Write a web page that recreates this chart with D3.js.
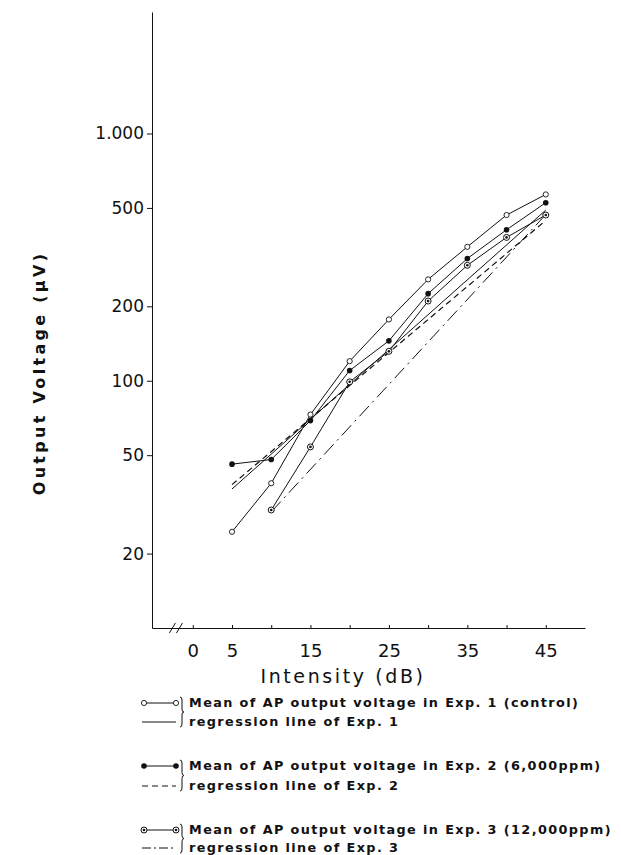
<!DOCTYPE html>
<html><head><meta charset="utf-8">
<script src="https://cdn.jsdelivr.net/npm/d3@7"></script>
<style>body{margin:0;background:#fff}svg{display:block}</style>
</head><body>
<svg id="chart" width="621" height="855"></svg>
<script>
// ---- data ----
const intensities = [5, 10, 15, 20, 25, 30, 35, 40, 45];
const exp1Values = [24.5, 38.5, 73, 120, 177, 257, 348, 468, 567];
const exp2Values = [46, 48, 69, 110, 145, 225, 312, 408, 525];
const exp3Intensities = [10, 15, 20, 25, 30, 35, 40, 45];
const exp3Values = [30, 54, 99, 131.5, 210, 293, 380, 468];
const reg1Intensities = [5, 45];
const reg1Values = [36.5, 490];
const reg2Intensities = [5, 45];
const reg2Values = [38, 445];
const reg3Intensities = [10, 45];
const reg3Values = [29.5, 470];
const xTickValues = [0, 5, 10, 15, 20, 25, 30, 35, 40, 45];
const xTickLabels = ["0", "5", "", "15", "", "25", "", "35", "", "45"];
const yTickValues = [20, 50, 100, 200, 500, 1000];
const yTickLabels = ["20", "50", "100", "200", "500", "1.000"];
const xDomain = [-5.2, 50];
const yDomain = [10, 3100];
const xTitle = "Intensity (dB)";
const yTitle = "Output Voltage (\u03BCV)";
const legendLabels = [
  "Mean of AP output voltage in Exp. 1 (control)",
  "regression line of Exp. 1",
  "Mean of AP output voltage in Exp. 2 (6,000ppm)",
  "regression line of Exp. 2",
  "Mean of AP output voltage in Exp. 3 (12,000ppm)",
  "regression line of Exp. 3"
];

// ---- drawing ----
const FONT = "'DejaVu Sans', 'Liberation Sans', sans-serif";
const svg = d3.select("#chart");
const x = d3.scaleLinear().domain(xDomain).range([152, 585]);
const y = d3.scaleLog().domain(yDomain).range([628, 12]);

// axes
const xAxis = svg.append("g").attr("transform", `translate(0,${y(yDomain[0])})`)
  .call(d3.axisBottom(x).tickValues(xTickValues).tickFormat((d, i) => xTickLabels[i])
    .tickSizeInner(-3).tickSizeOuter(0).tickPadding(16));
xAxis.selectAll("text").attr("font-family", FONT).attr("font-size", 18).attr("fill", "#111");
xAxis.selectAll("line,path").attr("stroke", "#111");

const yAxis = svg.append("g").attr("transform", `translate(${x(xDomain[0])},0)`)
  .call(d3.axisLeft(y).tickValues(yTickValues).tickFormat((d, i) => yTickLabels[i])
    .tickSizeInner(5).tickSizeOuter(0).tickPadding(3));
yAxis.selectAll("text").attr("font-family", FONT).attr("font-size", 17).attr("fill", "#111");
yAxis.selectAll("line,path").attr("stroke", "#111");

// axis break marks
[-2.6, -1.7].forEach(v => {
  svg.append("line").attr("x1", x(v) - 3).attr("x2", x(v) + 3)
    .attr("y1", y(yDomain[0]) + 5).attr("y2", y(yDomain[0]) - 5)
    .attr("stroke", "#111").attr("stroke-width", 1);
});

// titles
svg.append("text").attr("x", 343).attr("y", 683).attr("text-anchor", "middle")
  .attr("font-family", FONT).attr("font-size", 19).attr("letter-spacing", 2.6).attr("fill", "#111")
  .text(xTitle);
svg.append("text").attr("transform", "translate(45,373) rotate(-90)").attr("text-anchor", "middle")
  .attr("font-family", FONT).attr("font-size", 16).attr("font-weight", "bold").attr("letter-spacing", 3.3)
  .attr("fill", "#111").text(yTitle);

// regression lines
const line = d3.line().x(d => x(d[0])).y(d => y(d[1]));
const zip = (a, b) => a.map((v, i) => [v, b[i]]);
svg.append("path").datum(zip(reg1Intensities, reg1Values)).attr("d", line)
  .attr("fill", "none").attr("stroke", "#111").attr("stroke-width", 1);
svg.append("path").datum(zip(reg2Intensities, reg2Values)).attr("d", line)
  .attr("fill", "none").attr("stroke", "#111").attr("stroke-width", 1.2).attr("stroke-dasharray", "6,4");
svg.append("path").datum(zip(reg3Intensities, reg3Values)).attr("d", line)
  .attr("fill", "none").attr("stroke", "#111").attr("stroke-width", 1).attr("stroke-dasharray", "14,5,2,5");

// data lines
const s1 = zip(intensities, exp1Values), s2 = zip(intensities, exp2Values), s3 = zip(exp3Intensities, exp3Values);
[s1, s2, s3].forEach(s => svg.append("path").datum(s).attr("d", line)
  .attr("fill", "none").attr("stroke", "#111").attr("stroke-width", 1));

// markers
function openMarker(g, cx, cy) {
  g.append("circle").attr("cx", cx).attr("cy", cy).attr("r", 2.6).attr("fill", "#fff").attr("stroke", "#111").attr("stroke-width", 0.9);
}
function filledMarker(g, cx, cy) {
  g.append("circle").attr("cx", cx).attr("cy", cy).attr("r", 2.8).attr("fill", "#111");
}
function dotMarker(g, cx, cy) {
  g.append("circle").attr("cx", cx).attr("cy", cy).attr("r", 3).attr("fill", "#fff").attr("stroke", "#111").attr("stroke-width", 1);
  g.append("circle").attr("cx", cx).attr("cy", cy).attr("r", 1.3).attr("fill", "#111");
}
const mg = svg.append("g");
s1.forEach(d => openMarker(mg, x(d[0]), y(d[1])));
s2.forEach(d => filledMarker(mg, x(d[0]), y(d[1])));
s3.forEach(d => dotMarker(mg, x(d[0]), y(d[1])));

// legend
const legendY = [707, 726, 770, 790, 834, 852];
const symX0 = 144, symX1 = 176, braceX = 182, textX = 189;
const lg = svg.append("g");
legendLabels.forEach((t, i) => {
  lg.append("text").attr("x", textX).attr("y", legendY[i]).attr("font-family", FONT)
    .attr("font-size", 12.8).attr("font-weight", "bold").attr("letter-spacing", 1.4).attr("fill", "#111").text(t);
});
const dashes = [null, "6,4", "9,3,2,3"];
const markerFns = [openMarker, filledMarker, dotMarker];
[0, 1, 2].forEach(k => {
  const yA = legendY[2 * k] - 4, yB = legendY[2 * k + 1] - 4;
  lg.append("line").attr("x1", symX0).attr("x2", symX1).attr("y1", yA).attr("y2", yA).attr("stroke", "#111").attr("stroke-width", 1);
  markerFns[k](lg, symX0, yA);
  markerFns[k](lg, symX1, yA);
  const rl = lg.append("line").attr("x1", symX0 - 2).attr("x2", symX1).attr("y1", yB).attr("y2", yB).attr("stroke", "#111").attr("stroke-width", 1);
  if (dashes[k]) rl.attr("stroke-dasharray", dashes[k]);
  // brace
  const top = yA - 6, bot = yB + 5, mid = (top + bot) / 2;
  lg.append("path").attr("d",
    `M${braceX - 2},${top} Q${braceX},${top} ${braceX},${top + 3} L${braceX},${mid - 3} Q${braceX},${mid} ${braceX + 2},${mid} Q${braceX},${mid} ${braceX},${mid + 3} L${braceX},${bot - 3} Q${braceX},${bot} ${braceX - 2},${bot}`)
    .attr("fill", "none").attr("stroke", "#111").attr("stroke-width", 1);
});
</script>
</body></html>
